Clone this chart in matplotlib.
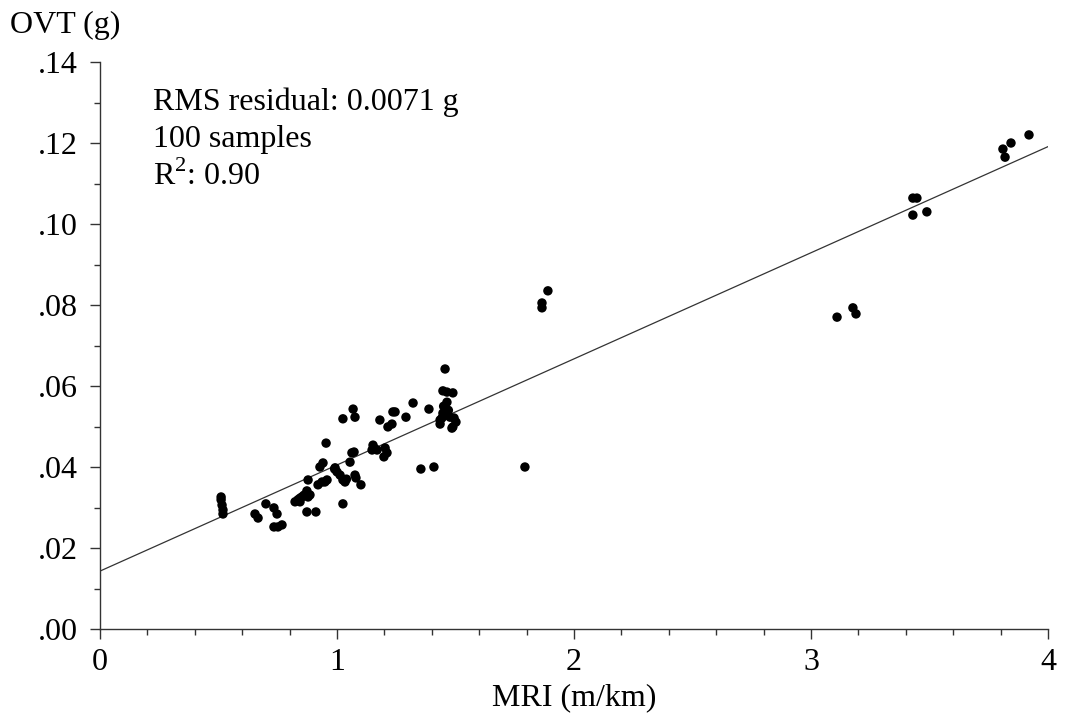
import matplotlib
matplotlib.use("Agg")
import matplotlib.pyplot as plt
from matplotlib.ticker import MultipleLocator, FuncFormatter

plt.rcParams["font.family"] = ["Liberation Serif", "DejaVu Serif"]
plt.rcParams["mathtext.fontset"] = "custom"
plt.rcParams["mathtext.rm"] = "Liberation Serif"

# MRI (m/km) per sample
mri = [
    0.511, 0.511, 0.515, 0.519, 0.519,
    0.654, 0.667, 0.700, 0.734, 0.747, 0.734, 0.751, 0.768,
    0.823, 0.835, 0.844, 0.852, 0.865, 0.873, 0.878, 0.886, 0.873, 0.911,
    0.878, 0.920, 0.937, 0.949, 0.928, 0.941, 0.954, 0.992, 1.000, 1.013,
    1.025, 1.034, 1.025, 1.076, 1.080, 1.101, 1.055, 1.063, 1.072, 1.025,
    1.068, 1.076, 1.152, 1.148, 1.169, 1.181, 1.236, 1.245, 1.232, 1.215,
    1.203, 1.211, 1.198, 1.291, 1.321, 1.388, 1.354, 1.409,
    1.456, 1.447, 1.464, 1.489, 1.464, 1.456, 1.447, 1.443, 1.435, 1.464,
    1.477, 1.494, 1.502, 1.489, 1.485,
    0.844, 0.958, 1.435, 0.860, 1.040, 1.470, 1.160, 1.450, 0.990,
    1.890, 1.865, 1.865, 1.793,
    3.110, 3.177, 3.190, 3.430, 3.447, 3.430, 3.489,
    3.810, 3.819, 3.844, 3.920,
]

# OVT (g) per sample
ovt = [
    0.0326, 0.0319, 0.0306, 0.0294, 0.0284,
    0.0284, 0.0274, 0.0309, 0.0299, 0.0284, 0.0252, 0.0252, 0.0257,
    0.0314, 0.0319, 0.0323, 0.0326, 0.0331, 0.0341, 0.0326, 0.0331, 0.0289, 0.0289,
    0.0368, 0.0356, 0.0363, 0.0363, 0.0400, 0.0410, 0.0459, 0.0398, 0.0388, 0.0380,
    0.0368, 0.0363, 0.0309, 0.0380, 0.0373, 0.0356, 0.0412, 0.0435, 0.0437, 0.0519,
    0.0543, 0.0523, 0.0454, 0.0442, 0.0442, 0.0516, 0.0536, 0.0536, 0.0506, 0.0499,
    0.0447, 0.0435, 0.0425, 0.0523, 0.0558, 0.0543, 0.0395, 0.0400,
    0.0642, 0.0588, 0.0585, 0.0583, 0.0560, 0.0546, 0.0533, 0.0521, 0.0516, 0.0528,
    0.0523, 0.0521, 0.0511, 0.0499, 0.0496,
    0.0314, 0.0368, 0.0506, 0.0330, 0.0370, 0.0540, 0.0445, 0.0550, 0.0395,
    0.0835, 0.0805, 0.0793, 0.0400,
    0.0770, 0.0793, 0.0778, 0.1064, 0.1064, 0.1022, 0.1030,
    0.1185, 0.1165, 0.1200, 0.1220,
]

fit_intercept = 0.0143
fit_slope = 0.0262

stats_lines = ["RMS residual: 0.0071 g", "100 samples", "R$^{2}$: 0.90"]


def main():
    fig = plt.figure(figsize=(10.65, 7.21), dpi=100)
    ax = fig.add_axes([0.0939, 0.1276, 0.8901, 0.7864])

    ax.scatter(mri, ovt, s=46, color="black", edgecolors="none", zorder=3)
    ax.plot([0, 4], [fit_intercept, fit_intercept + 4 * fit_slope],
            color="#333333", linewidth=0.9, zorder=2)

    ax.set_xlim(0, 4)
    ax.set_ylim(0, 0.14)
    ax.xaxis.set_major_locator(MultipleLocator(1))
    ax.xaxis.set_minor_locator(MultipleLocator(0.2))
    ax.yaxis.set_major_locator(MultipleLocator(0.02))
    ax.yaxis.set_minor_locator(MultipleLocator(0.01))
    ax.yaxis.set_major_formatter(FuncFormatter(lambda v, p: f"{v:.2f}".lstrip("0")))

    for side in ["top", "right"]:
        ax.spines[side].set_visible(False)
    for side in ["left", "bottom"]:
        ax.spines[side].set_color("#333333")
        ax.spines[side].set_linewidth(1.0)

    ax.tick_params(which="major", length=7, width=1.0, color="#333333",
                   labelsize=23, pad=7)
    ax.tick_params(which="minor", length=4, width=1.0, color="#333333")
    ax.tick_params(axis="y", which="major", pad=9)

    ax.set_xlabel("MRI (m/km)", fontsize=23, labelpad=4)
    fig.text(0.009, 0.985, "OVT (g)", fontsize=23, va="top", ha="left")

    y0 = 0.1281
    for i, line in enumerate(stats_lines):
        ax.text(0.224, y0 - i * 0.0092, line, fontsize=23, va="baseline")

    fig.savefig("out.png", dpi=100)


if __name__ == "__main__":
    main()
